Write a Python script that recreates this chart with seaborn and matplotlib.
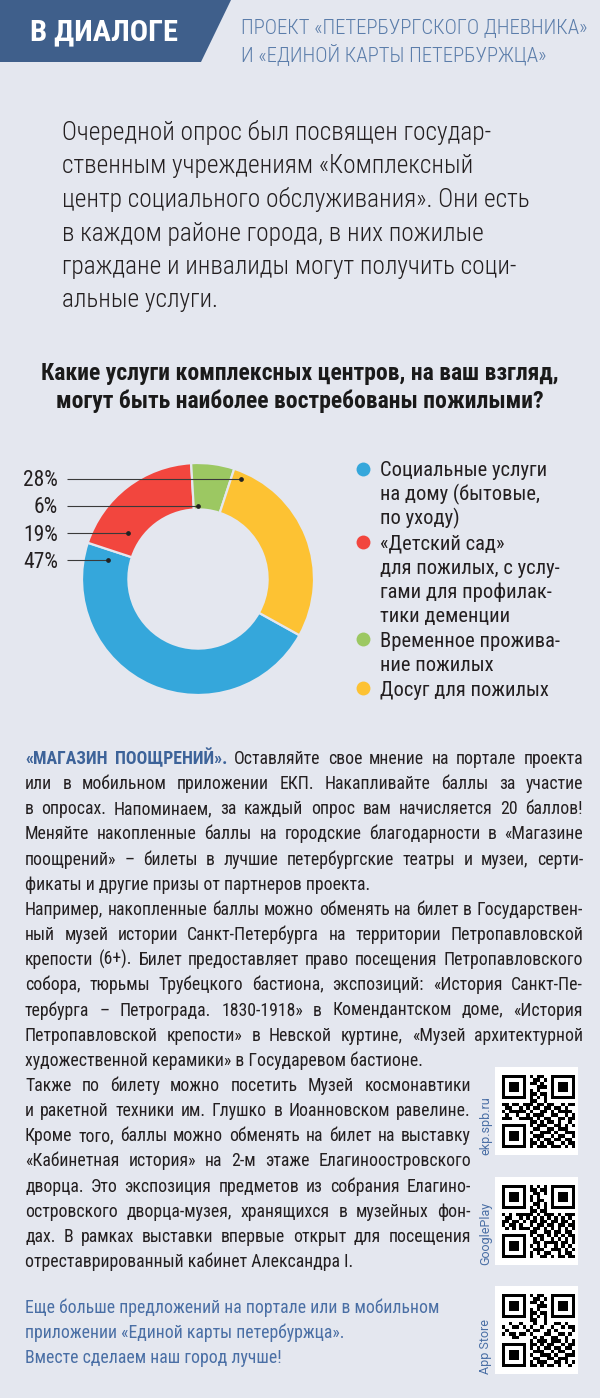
import numpy as np
import pandas as pd
import seaborn as sns
import matplotlib.pyplot as plt
from matplotlib import font_manager
from matplotlib.font_manager import FontProperties
from matplotlib.colors import ListedColormap
from matplotlib.patches import Polygon, Rectangle

# --- data -----------------------------------------------------------------
header_tag = "В ДИАЛОГЕ"
header_lines = ["ПРОЕКТ «ПЕТЕРБУРГСКОГО ДНЕВНИКА»", "И «ЕДИНОЙ КАРТЫ ПЕТЕРБУРЖЦА»"]

intro_lines = [
    "Очередной опрос был посвящен государ-",
    "ственным учреждениям «Комплексный",
    "центр социального обслуживания». Они есть",
    "в каждом районе города, в них пожилые",
    "граждане и инвалиды могут получить соци-",
    "альные услуги.",
]

question_lines = [
    "Какие услуги комплексных центров, на ваш взгляд,",
    "могут быть наиболее востребованы пожилыми?",
]

categories = [
    "Социальные услуги на дому (бытовые, по уходу)",
    "«Детский сад» для пожилых, с услугами для профилактики деменции",
    "Временное проживание пожилых",
    "Досуг для пожилых",
]
legend_lines = [
    ["Социальные услуги", "на дому (бытовые,", "по уходу)"],
    ["«Детский сад»", "для пожилых, с услу-", "гами для профилак-", "тики деменции"],
    ["Временное прожива-", "ние пожилых"],
    ["Досуг для пожилых"],
]
shares = [47, 19, 6, 28]
colors = ["#35A7DB", "#F2463E", "#9CC862", "#FDC233"]

body_lead = "«МАГАЗИН ПООЩРЕНИЙ»."
body_lines = [
    "«МАГАЗИН ПООЩРЕНИЙ». Оставляйте свое мнение на портале проекта",
    "или в мобильном приложении ЕКП. Накапливайте баллы за участие",
    "в опросах. Напоминаем, за каждый опрос вам начисляется 20 баллов!",
    "Меняйте накопленные баллы на городские благодарности в «Магазине",
    "поощрений» – билеты в лучшие петербургские театры и музеи, серти-",
    "фикаты и другие призы от партнеров проекта.",
    "Например, накопленные баллы можно обменять на билет в Государствен-",
    "ный музей истории Санкт-Петербурга на территории Петропавловской",
    "крепости (6+). Билет предоставляет право посещения Петропавловского",
    "собора, тюрьмы Трубецкого бастиона, экспозиций: «История Санкт-Пе-",
    "тербурга – Петрограда. 1830-1918» в Комендантском доме, «История",
    "Петропавловской крепости» в Невской куртине, «Музей архитектурной",
    "художественной керамики» в Государевом бастионе.",
    "Также по билету можно посетить Музей космонавтики",
    "и ракетной техники им. Глушко в Иоанновском равелине.",
    "Кроме того, баллы можно обменять на билет на выставку",
    "«Кабинетная история» на 2-м этаже Елагиноостровского",
    "дворца. Это экспозиция предметов из собрания Елагино-",
    "островского дворца-музея, хранящихся в музейных фон-",
    "дах. В рамках выставки впервые открыт для посещения",
    "отреставрированный кабинет Александра I.",
]
body_justified = [True] * 5 + [False] + [True] * 6 + [False] + [True] * 7 + [False]
body_narrow = [False] * 13 + [True] * 8

closing_lines = [
    "Еще больше предложений на портале или в мобильном",
    "приложении «Единой карты петербуржца».",
    "Вместе сделаем наш город лучше!",
]
qr_labels = ["ekp.spb.ru", "GooglePlay", "App Store"]

# --- style ----------------------------------------------------------------
sns.set_theme(style="white")
palette = sns.color_palette(colors)
BG = "#E4E7EF"
HEADER = "#3F5F8B"
HEADER_TXT = "#5B7DAA"
DARK = "#231F20"
BLUE_TXT = "#3D6399"
LINK = "#4A6FA5"

W, H = 600, 1398
CX, CY, RAD = 198, 579, 116

COND = ("condensed", "semi-condensed", "extra-condensed", "ultra-condensed")


def weight_of(f):
    w = f.weight
    return w if isinstance(w, (int, float)) else font_manager.weight_dict.get(w, 400)


def pick_font(weight, condensed=True):
    names = ["Roboto Condensed", "Liberation Sans Narrow", "Noto Sans", "Open Sans",
             "DejaVu Sans", "Roboto"]
    if condensed:
        for name in names:
            cands = [f for f in font_manager.fontManager.ttflist
                     if f.name == name and f.stretch in COND and f.style == "normal"]
            if cands:
                best = min(cands, key=lambda f: abs(weight_of(f) - weight))
                return FontProperties(fname=best.fname)
    return FontProperties(family="Roboto", weight=weight)


F_REG = pick_font(400)
F_BOLD = pick_font(700)
F_LIGHT = pick_font(300)
F_PLAIN = pick_font(400, condensed=False)

fig = plt.figure(figsize=(W / 100, H / 100), dpi=100, facecolor=BG)
ax = fig.add_axes([0, 0, 1, 1])
ax.set_facecolor(BG)
rend = fig.canvas.get_renderer()


def fp_at(fp, size):
    p = fp.copy()
    p.set_size(size)
    return p


def width(s, fp, size):
    return rend.get_text_width_height_descent(s, fp_at(fp, size), ismath=False)[0]


def fit(lines, fp, size, maxw):
    w = max(width(l, fp, size) for l in lines)
    return size * min(1.0, maxw / w)


def put(x, y, s, fp, size, color=DARK, **kw):
    return ax.text(x, y, s, fontproperties=fp_at(fp, size), color=color,
                   va="baseline", **kw)


# --- header ---------------------------------------------------------------
ax.add_patch(Polygon([(0, 0), (231, 0), (201, 62), (0, 62)], closed=True,
                     fc=HEADER, ec="none"))
s = fit([header_tag], F_BOLD, 25, 148)
put(30, 40, header_tag, F_BOLD, s, color="white")
s = fit(header_lines, F_LIGHT, 17.5, 346)
for y, line in zip([33, 61], header_lines):
    put(241, y, line, F_LIGHT, s, color=HEADER_TXT)

# --- intro ----------------------------------------------------------------
s = fit(intro_lines, F_LIGHT, 18.3, 515)
for i, line in enumerate(intro_lines):
    put(62, 140 + i * 33.5, line, F_LIGHT, s)

# --- question -------------------------------------------------------------
s = fit(question_lines, F_BOLD, 17, 526)
for y, line in zip([380, 408], question_lines):
    put(300, y, line, F_BOLD, s, color="#1A1A1A", ha="center")

# --- donut ----------------------------------------------------------------
ax_pie = fig.add_axes([(CX - RAD) / W, 1 - (CY + RAD) / H, 2 * RAD / W, 2 * RAD / H])
wedges, _ = ax_pie.pie(shares, colors=palette, startangle=-29, counterclock=False,
                       radius=1, wedgeprops=dict(width=0.4, edgecolor=BG, linewidth=1.6))
for w in wedges:
    w.set_clip_on(False)
ax_pie.set_xlim(-1, 1)
ax_pie.set_ylim(-1, 1)
ax_pie.set_aspect("equal")
ax_pie.axis("off")

# overlay for leader lines and labels (drawn above the donut)
ov = fig.add_axes([0, 0, 1, 1])
ov.set_facecolor("none")
ov.set_xlim(0, W)
ov.set_ylim(H, 0)
ov.axis("off")

pos_frac = [0.963, 0.22, 0.16, 0.05]
pos_rad = [0.79, 0.72, 0.63, 0.94]
s_pct = fit(["47%"], F_REG, 15.5, 35)
for w, v, f, r in zip(wedges, shares, pos_frac, pos_rad):
    a = np.deg2rad(w.theta2 - f * (w.theta2 - w.theta1))
    px = CX + r * RAD * np.cos(a)
    py = CY - r * RAD * np.sin(a)
    ov.plot([67, px], [py, py], color="#3A3A3A", lw=0.8, solid_capstyle="butt")
    ov.plot(px, py, "o", ms=2.4, color="#222222")
    ov.text(58, py + 7.5, f"{v}%", fontproperties=fp_at(F_REG, s_pct), color=DARK,
            ha="right", va="baseline")

# --- legend ---------------------------------------------------------------
flat = [l for item in legend_lines for l in item]
s = fit(flat, F_REG, 15.5, 180)
k = 0
for col, item in zip(palette, legend_lines):
    y0 = 476 + k * 24.4
    ax.plot(363, y0 - 7.5, "o", ms=10, color=col, mec="none")
    for line in item:
        put(380, 476 + k * 24.4, line, F_REG, s)
        k += 1

# --- body text ------------------------------------------------------------
X0, X1, X1N = 25, 583, 471
size_b = 14.0
for line, just, narrow in zip(body_lines, body_justified, body_narrow):
    if just:
        target = (X1N if narrow else X1) - X0
        size_b = min(size_b, fit([line], F_REG, 14.0, target - 2))
lead_words = body_lead.split(" ")
for i, (line, just, narrow) in enumerate(zip(body_lines, body_justified, body_narrow)):
    y = 764 + i * 25.15
    words = line.split(" ")
    styles = []
    for j, wd in enumerate(words):
        if i == 0 and j < len(lead_words):
            styles.append((F_BOLD, BLUE_TXT))
        else:
            styles.append((F_REG, DARK))
    if just:
        right = X1N if narrow else X1
        widths = [width(wd, fp, size_b) for wd, (fp, _) in zip(words, styles)]
        gap = (right - X0 - sum(widths)) / (len(words) - 1)
        x = X0
        for wd, (fp, c), wdt in zip(words, styles, widths):
            put(x, y, wd, fp, size_b, color=c)
            x += wdt + gap
    else:
        put(X0, y, line, F_REG, size_b)

s = fit(closing_lines, F_REG, size_b, 432)
for y, line in zip([1313, 1338, 1363], closing_lines):
    put(X0, y, line, F_REG, s, color=LINK)

# --- QR codes -------------------------------------------------------------
FINDER = ["1111111", "1000001", "1011101", "1011101", "1011101", "1000001", "1111111"]
qr_top = ["10110", "01101", "11010", "00111", "10100", "11011", "10101", "11001"]
qr_mid = ["110110111011011001011", "011001010110110110100", "101111101001101011110",
          "010010010111001100101", "111001111010110011011"]
qr_low = ["1101011010010", "1011100110101", "0110011011100", "1001110100111",
          "0111001011001", "1010110110110", "1101011001011", "1011101110101"]
rows = [FINDER[i] + "0" + qr_top[i] + "0" + FINDER[i] for i in range(7)]
rows.append("0" * 8 + qr_top[7] + "0" * 8)
rows += qr_mid
rows.append("0" * 8 + qr_low[0])
rows += [FINDER[i] + "0" + qr_low[i + 1] for i in range(7)]
M1 = np.array([[int(c) for c in r] for r in rows])
M2 = M1.T.copy()
M3 = M1.copy()
M3[8:13] = 1 - M3[8:13]
M3[13:, 8:] = M3[13:, 8:][::-1]

qcmap = ListedColormap(["white", "black"])
s_qr = fit(qr_labels, F_PLAIN, 10, 63)
for top, M, lab in zip([1067, 1177, 1286], [M1, M2, M3], qr_labels):
    ax.add_patch(Rectangle((495, top), 83, 88, fc="white", ec="none"))
    ax.imshow(M, cmap=qcmap, extent=(502, 575, top + 81, top + 8),
              interpolation="nearest", zorder=3)
    ax.text(486, top + 88, lab, fontproperties=fp_at(F_PLAIN, s_qr), color=LINK,
            rotation=90, rotation_mode="anchor", ha="left", va="center")

ax.set_xlim(0, W)
ax.set_ylim(H, 0)
ax.set_aspect("auto")
ax.axis("off")

fig.savefig("out.png", dpi=100, facecolor=BG)
